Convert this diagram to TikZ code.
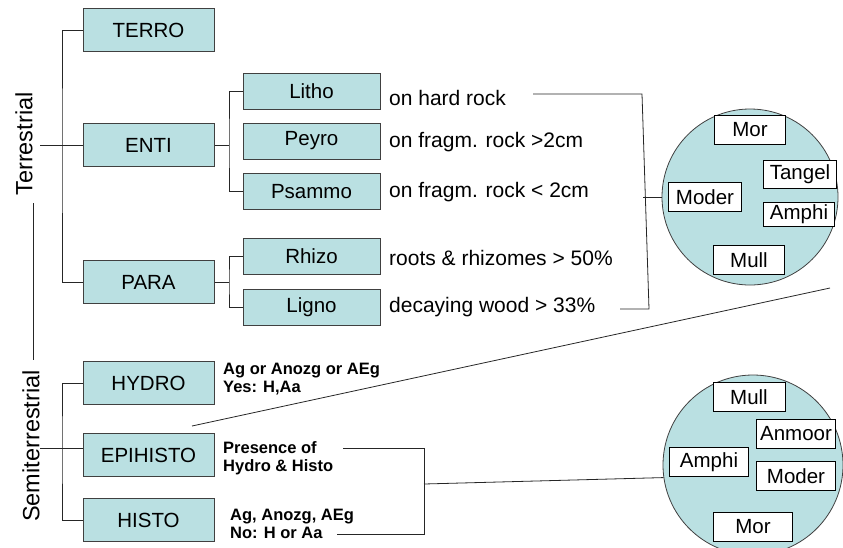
\documentclass[tikz,border=0pt]{standalone}
\usepackage{fontspec}
\setmainfont{Liberation Sans}
\usetikzlibrary{positioning}
\definecolor{soilblue}{RGB}{186,224,226}
\definecolor{edgegray}{RGB}{64,64,64}

\begin{document}
\begin{tikzpicture}[x=1pt,y=-1pt,
    horizon/.style={draw=edgegray,fill=soilblue,line width=1pt,
      minimum width=131pt,minimum height=43pt,inner sep=0pt,
      font=\fontsize{20.5}{24}\selectfont},
    subhorizon/.style={horizon,minimum width=137pt,minimum height=36pt},
    note/.style={anchor=west,inner sep=0pt,font=\fontsize{21}{24}\selectfont},
    bnote/.style={anchor=west,align=left,inner sep=0pt,
      font=\fontsize{16.5}{18.5}\selectfont\bfseries},
    humus/.style={draw=black,fill=white,line width=0.8pt,minimum height=29pt,
      inner sep=0pt,font=\fontsize{20.5}{24}\selectfont},
    link/.style={line width=0.8pt,draw=black!85}]
  \useasboundingbox (0,0) rectangle (843,547);
  \clip (0,0) rectangle (843,547);

  % group labels
  \node[rotate=90,font=\fontsize{23.5}{28}\selectfont] (terr) at (24,144) {Terrestrial};
  \node[rotate=90,font=\fontsize{23.5}{28}\selectfont] (semi) at (31,446) {Semiterrestrial};
  \coordinate (splitA) at (33,203);
  \coordinate (splitB) at (33,360);
  \draw[link] (splitA) -- (splitB);

  % main horizons
  \node[horizon] (terro) at (148.5,30) {TERRO};
  \node[horizon] (enti) at (148.5,145) {ENTI};
  \node[horizon] (para) at (148.5,282) {PARA};
  \node[horizon] (hydro) at (148.5,383) {HYDRO};
  \node[horizon] (epihisto) at (148.5,455) {EPIHISTO};
  \node[horizon] (histo) at (148.5,520) {HISTO};

  % sub horizons
  \node[subhorizon] (litho) at (311.5,91) {Litho};
  \node[subhorizon] (peyro) at (311.5,141) {Peyro};
  \node[subhorizon] (psammo) at (311.5,191.5) {Psammo};
  \node[subhorizon] (rhizo) at (311.5,256.5) {Rhizo};
  \node[subhorizon] (ligno) at (311.5,307) {Ligno};

  % criteria
  \node[note] (hard) at (389,98) {on hard rock};
  \node[note] (coarse) at (389,142) {on fragm. rock >2cm};
  \node[note] (fine) at (389,192) {on fragm. rock < 2cm};
  \node[note] (roots) at (389,258) {roots \& rhizomes > 50\%};
  \node[note] (wood) at (389,307) {decaying wood > 33\%};
  \node[bnote] (hydronote) at (223,379) {Ag or Anozg or AEg\\Yes: H,Aa};
  \node[bnote] (epinote) at (223,458) {Presence of\\Hydro \& Histo};
  \node[bnote] (histonote) at (230,524) {Ag, Anozg, AEg\\No: H or Aa};

  % tree lines
  \coordinate (terrA) at (40,145);
  \coordinate (terrJ) at (62,145);
  \draw[link] (terrA) -- (enti.west);
  \draw[link] (terro.west) -| (terrJ) |- (para.west);
  \coordinate (entiJ) at (229,145);
  \draw[link] (enti.east) -- (entiJ);
  \draw[link] (litho.west) -| (entiJ) |- (psammo.west);
  \coordinate (paraJ) at (229,282);
  \draw[link] (para.east) -- (paraJ);
  \draw[link] (rhizo.west) -| (paraJ) |- (ligno.west);
  \coordinate (semiA) at (40,448);
  \coordinate (semiJ) at (62,448);
  \draw[link] (semiA) -- (epihisto.west |- semiA);
  \draw[link] (hydro.west) -| (semiJ) |- (histo.west);

  % humus forms
  \node[circle,draw=edgegray,fill=soilblue,line width=0.8pt,minimum size=176pt] (circA) at (750,197) {};
  \node[humus,minimum width=71pt] (morA) at (750,130) {Mor};
  \node[humus,minimum width=73pt,minimum height=28pt] (tangelA) at (800,174) {Tangel};
  \node[humus,minimum width=73pt] (moderA) at (705,197) {Moder};
  \node[humus,minimum width=71pt,minimum height=24pt] (amphiA) at (799,214) {Amphi};
  \node[humus,minimum width=71pt] (mullA) at (749,260) {Mull};

  \node[circle,draw=edgegray,fill=soilblue,line width=0.8pt,minimum size=180pt] (circB) at (753,465) {};
  \node[humus,minimum width=72pt] (mullB) at (749,397) {Mull};
  \node[humus,minimum width=79pt] (anmoorB) at (796,434) {Anmoor};
  \node[humus,minimum width=79pt] (amphiB) at (709,462) {Amphi};
  \node[humus,minimum width=79pt] (moderB) at (796,476) {Moder};
  \node[humus,minimum width=79pt] (morB) at (753,527) {Mor};

  % brackets to humus forms
  \coordinate (topA) at (533,94);
  \coordinate (topB) at (642,94);
  \coordinate (botB) at (649,309);
  \coordinate (botA) at (620,309);
  \coordinate (midA) at (643,197);
  \draw[link] (topA) -- (topB) -- (botB) -- (botA);
  \draw[link] (midA) -- (circA.west);
  \coordinate (semiTopA) at (343,448);
  \coordinate (semiTopB) at (424,448);
  \coordinate (semiBotB) at (424,534);
  \coordinate (semiBotA) at (337,534);
  \coordinate (semiMid) at (424,484);
  \draw[link] (semiTopA) -- (semiTopB) -- (semiBotB) -- (semiBotA);
  \draw[link] (semiMid) -- (circB.188);
  \coordinate (slantA) at (192,426);
  \coordinate (slantB) at (830,288);
  \draw[link] (slantA) -- (slantB);
\end{tikzpicture}
\end{document}
